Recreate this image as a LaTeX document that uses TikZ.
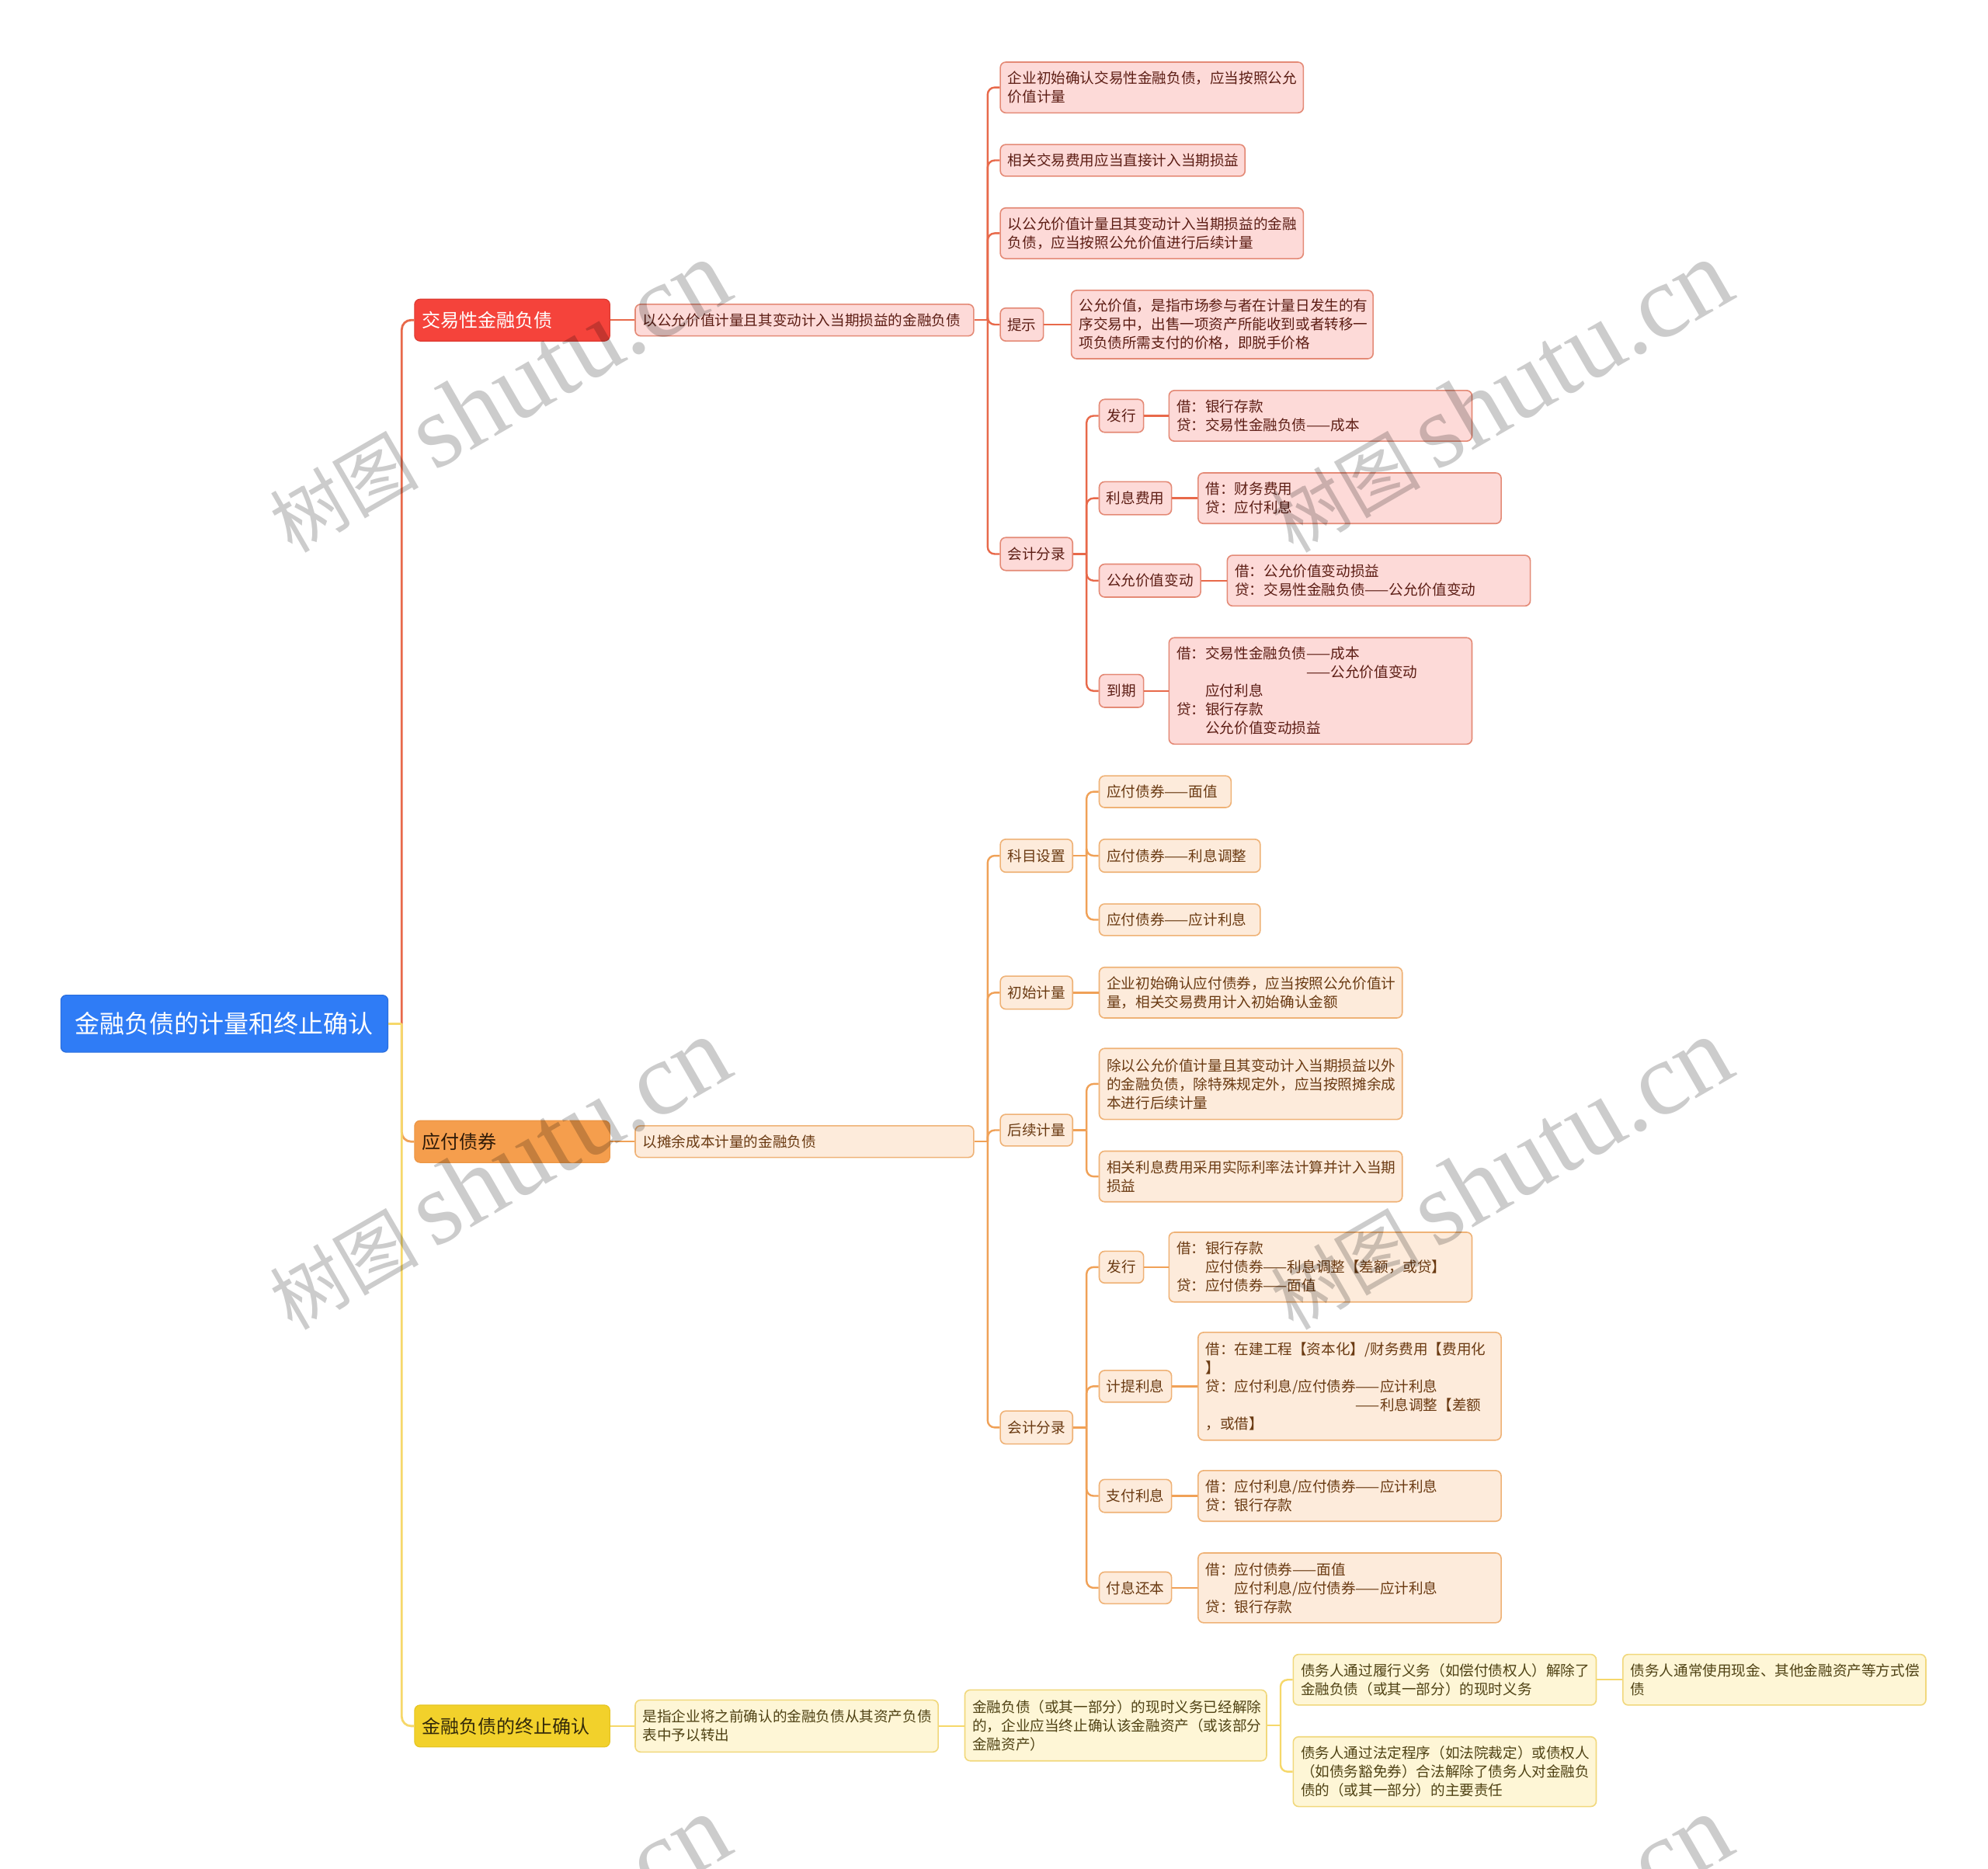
\documentclass[tikz,border=0pt]{standalone}
\usepackage{fontspec}
\setmainfont{Noto Sans CJK SC}
\newfontfamily\wmlatin{Liberation Serif}
\usetikzlibrary{calc}

\definecolor{rootF}{HTML}{2F7CF6}
\definecolor{rootD}{HTML}{2A6EDD}
\definecolor{redF}{HTML}{F5433B}
\definecolor{redD}{HTML}{DD3B32}
\definecolor{redLn}{HTML}{E8694A}
\definecolor{pinkF}{HTML}{FDDAD8}
\definecolor{pinkD}{HTML}{E48A76}
\definecolor{pinkT}{HTML}{5C1D14}
\definecolor{orgF}{HTML}{F59E4D}
\definecolor{orgD}{HTML}{EC9645}
\definecolor{orgHT}{HTML}{2E1A08}
\definecolor{orgLn}{HTML}{F0A157}
\definecolor{orgLF}{HTML}{FDEBDB}
\definecolor{orgLD}{HTML}{EFB276}
\definecolor{orgT}{HTML}{6A3A12}
\definecolor{yelF}{HTML}{F2D12B}
\definecolor{yelD}{HTML}{E6C522}
\definecolor{yelHT}{HTML}{33290A}
\definecolor{yelLn}{HTML}{F6D86A}
\definecolor{yelLF}{HTML}{FEF6D6}
\definecolor{yelLD}{HTML}{F1D87C}
\definecolor{yelT}{HTML}{4F4214}

% left-aligned box: name, style, x1, y1, x2, y2, text
\newcommand\mbx[7]{%
  \pgfmathsetmacro\mbxW{(#5-#3)*0.8163}%
  \pgfmathsetmacro\mbxH{(#6-#4)*0.8163}%
  \pgfmathsetmacro\mbxT{(#5-#3-12)*0.8163}%
  \node[#2, minimum width=\mbxW pt, minimum height=\mbxH pt, text width=\mbxT pt,
        inner xsep=4.898pt, inner ysep=0pt, align=left]
        (#1) at ({(#3+#5)/2},{(#4+#6)/2}) {#7};%
}
% centered box
\newcommand\mcb[7]{%
  \pgfmathsetmacro\mbxW{(#5-#3)*0.8163}%
  \pgfmathsetmacro\mbxH{(#6-#4)*0.8163}%
  \node[#2, minimum width=\mbxW pt, minimum height=\mbxH pt, inner sep=0pt]
        (#1) at ({(#3+#5)/2},{(#4+#6)/2}) {#7};%
}
% fan connector: style, parent, children
\newcommand\fan[3]{%
  \draw[#1] (#2.east) -- ++(10.5,0) coordinate (fan-#2);%
  \foreach \chd in {#3} {\draw[#1, rounded corners=4.5pt] (fan-#2) |- (\chd.west);}%
}
\newcommand\lnk[3]{\draw[#1] (#2.east) -- (#2.east -| #3.west);}

\begin{document}
\begin{tikzpicture}[x=0.8163pt,y=-0.8163pt,
  smallfont/.style={font=\fontsize{9.3}{12}\selectfont},
  rootbox/.style={fill=rootF, draw=rootD, line width=0.6pt, rounded corners=3.5pt, text=white,
     font=\fontsize{16}{19}\selectfont},
  redhead/.style={fill=redF, draw=redD, line width=0.6pt, rounded corners=3.5pt, text=white,
     font=\fontsize{12}{14}\selectfont},
  orghead/.style={fill=orgF, draw=orgD, line width=0.6pt, rounded corners=3.5pt, text=orgHT,
     font=\fontsize{12}{14}\selectfont},
  yelhead/.style={fill=yelF, draw=yelD, line width=0.6pt, rounded corners=3.5pt, text=yelHT,
     font=\fontsize{12}{14}\selectfont},
  redbox/.style={fill=pinkF, draw=pinkD, line width=0.8pt, rounded corners=3.5pt, text=pinkT, smallfont},
  orgbox/.style={fill=orgLF, draw=orgLD, line width=0.8pt, rounded corners=3.5pt, text=orgT, smallfont},
  yelbox/.style={fill=yelLF, draw=yelLD, line width=0.8pt, rounded corners=3.5pt, text=yelT, smallfont},
  redln/.style={draw=redLn, line width=1.2pt},
  orgln/.style={draw=orgLn, line width=1.2pt},
  yelln/.style={draw=yelLn, line width=1.2pt},
  redmain/.style={draw=redLn, line width=1.4pt, rounded corners=6pt},
  orgmain/.style={draw=orgLn, line width=1.4pt, rounded corners=6pt},
  yelmain/.style={draw=yelLn, line width=1.4pt, rounded corners=6pt},
  wm/.style={text=black, text opacity=0.2, rotate=30, inner sep=0pt}
]
\fill[white] (0,0) rectangle (1568,1474);
\useasboundingbox (0,0) rectangle (1568,1474);

% ---------- nodes ----------
\mcb{root}{rootbox}{48}{785}{306}{830}{金融负债的计量和终止确认}

% red branch
\mbx{jy}{redhead}{327}{236}{481}{269}{交易性金融负债}
\mbx{jyd}{redbox}{501}{240}{768}{265}{以公允价值计量且其变动计入当期损益的金融负债}
\mbx{jyA}{redbox}{789}{49}{1028}{89}{企业初始确认交易性金融负债，应当按照公允\\价值计量}
\mbx{jyB}{redbox}{789}{114}{982}{139}{相关交易费用应当直接计入当期损益}
\mbx{jyC}{redbox}{789}{164}{1028}{204}{以公允价值计量且其变动计入当期损益的金融\\负债，应当按照公允价值进行后续计量}
\mcb{ts}{redbox}{789}{243}{823}{269}{提示}
\mbx{tsL}{redbox}{845}{229}{1083}{283}{公允价值，是指市场参与者在计量日发生的有\\序交易中，出售一项资产所能收到或者转移一\\项负债所需支付的价格，即脱手价格}
\mcb{kjA}{redbox}{789}{424}{846}{450}{会计分录}
\mcb{fxA}{redbox}{867}{315}{902}{341}{发行}
\mbx{fxAL}{redbox}{922}{308}{1161}{348}{借：银行存款\\贷：交易性金融负债——成本}
\mcb{lxA}{redbox}{867}{380}{924}{406}{利息费用}
\mbx{lxAL}{redbox}{945}{373}{1184}{413}{借：财务费用\\贷：应付利息}
\mcb{gyA}{redbox}{867}{445}{947}{471}{公允价值变动}
\mbx{gyAL}{redbox}{968}{438}{1207}{478}{借：公允价值变动损益\\贷：交易性金融负债——公允价值变动}
\mcb{dqA}{redbox}{867}{532}{902}{558}{到期}
\mbx{dqAL}{redbox}{922}{503}{1161}{587}{借：交易性金融负债——成本\\\hphantom{借：交易性金融负债}——公允价值变动\\\hphantom{借：}应付利息\\贷：银行存款\\\hphantom{借：}公允价值变动损益}

% orange branch
\mbx{yf}{orghead}{327}{884}{481}{917}{应付债券}
\mbx{yfd}{orgbox}{501}{888}{768}{913}{以摊余成本计量的金融负债}
\mcb{km}{orgbox}{789}{662}{846}{688}{科目设置}
\mbx{kmA}{orgbox}{867}{612}{971}{637}{应付债券——面值}
\mbx{kmB}{orgbox}{867}{662}{994}{688}{应付债券——利息调整}
\mbx{kmC}{orgbox}{867}{713}{994}{738}{应付债券——应计利息}
\mcb{cs}{orgbox}{789}{770}{846}{796}{初始计量}
\mbx{csL}{orgbox}{867}{763}{1106}{803}{企业初始确认应付债券，应当按照公允价值计\\量，相关交易费用计入初始确认金额}
\mcb{hx}{orgbox}{789}{879}{846}{904}{后续计量}
\mbx{hxA}{orgbox}{867}{827}{1106}{883}{除以公允价值计量且其变动计入当期损益以外\\的金融负债，除特殊规定外，应当按照摊余成\\本进行后续计量}
\mbx{hxB}{orgbox}{867}{908}{1106}{948}{相关利息费用采用实际利率法计算并计入当期\\损益}
\mcb{kjB}{orgbox}{789}{1113}{846}{1139}{会计分录}
\mcb{fxB}{orgbox}{867}{987}{902}{1012}{发行}
\mbx{fxBL}{orgbox}{922}{972}{1161}{1027}{借：银行存款\\\hphantom{借：}应付债券——利息调整【差额，或贷】\\贷：应付债券——面值}
\mcb{jt}{orgbox}{867}{1081}{924}{1106}{计提利息}
\mbx{jtL}{orgbox}{945}{1051}{1184}{1136}{借：在建工程【资本化】/财务费用【费用化\\】\\贷：应付利息/应付债券——应计利息\\\hphantom{贷：应付利息/应付债券}——利息调整【差额\\，或借】}
\mcb{zf}{orgbox}{867}{1167}{924}{1193}{支付利息}
\mbx{zfL}{orgbox}{945}{1160}{1184}{1200}{借：应付利息/应付债券——应计利息\\贷：银行存款}
\mcb{fb}{orgbox}{867}{1240}{924}{1265}{付息还本}
\mbx{fbL}{orgbox}{945}{1225}{1184}{1280}{借：应付债券——面值\\\hphantom{借：}应付利息/应付债券——应计利息\\贷：银行存款}

% yellow branch
\mbx{zz}{yelhead}{327}{1345}{481}{1378}{金融负债的终止确认}
\mbx{zzA}{yelbox}{501}{1341}{740}{1382}{是指企业将之前确认的金融负债从其资产负债\\表中予以转出}
\mbx{zzB}{yelbox}{761}{1333}{999}{1389}{金融负债（或其一部分）的现时义务已经解除\\的，企业应当终止确认该金融资产（或该部分\\金融资产）}
\mbx{zc1}{yelbox}{1020}{1305}{1259}{1345}{债务人通过履行义务（如偿付债权人）解除了\\金融负债（或其一部分）的现时义务}
\mbx{zc1a}{yelbox}{1280}{1305}{1519}{1345}{债务人通常使用现金、其他金融资产等方式偿\\债}
\mbx{zc2}{yelbox}{1020}{1370}{1259}{1425}{债务人通过法定程序（如法院裁定）或债权人\\（如债务豁免券）合法解除了债务人对金融负\\债的（或其一部分）的主要责任}

% ---------- connectors ----------
\coordinate (rt) at ($(root.east)+(10.5,0)$);
\draw[redmain] (rt) |- (jy.west);
\draw[orgmain] (rt) |- (yf.west);
\draw[yelmain] (rt) |- (zz.west);
\draw[yelmain] (root.east) -- (rt);

\lnk{redln}{jy}{jyd}
\fan{redln}{jyd}{jyA,jyB,jyC,ts,kjA}
\lnk{redln}{ts}{tsL}
\fan{redln}{kjA}{fxA,lxA,gyA,dqA}
\lnk{redln}{fxA}{fxAL}
\lnk{redln}{lxA}{lxAL}
\lnk{redln}{gyA}{gyAL}
\lnk{redln}{dqA}{dqAL}

\lnk{orgln}{yf}{yfd}
\fan{orgln}{yfd}{km,cs,hx,kjB}
\fan{orgln}{km}{kmA,kmB,kmC}
\lnk{orgln}{cs}{csL}
\fan{orgln}{hx}{hxA,hxB}
\fan{orgln}{kjB}{fxB,jt,zf,fb}
\lnk{orgln}{fxB}{fxBL}
\lnk{orgln}{jt}{jtL}
\lnk{orgln}{zf}{zfL}
\lnk{orgln}{fb}{fbL}

\lnk{yelln}{zz}{zzA}
\lnk{yelln}{zzA}{zzB}
\fan{yelln}{zzB}{zc1,zc2}
\lnk{yelln}{zc1}{zc1a}

% ---------- watermarks ----------
\foreach \wx/\wy [count=\wi] in {393/313,1183/313,393/926,1183/926,393/1539,1183/1539}{
  \node[wm] (wm\wi) at (\wx,\wy) {{\fontsize{48}{48}\selectfont 树图}\hspace{10pt}{\wmlatin\fontsize{67}{67}\selectfont shutu.cn}};
}
\end{tikzpicture}
\end{document}
